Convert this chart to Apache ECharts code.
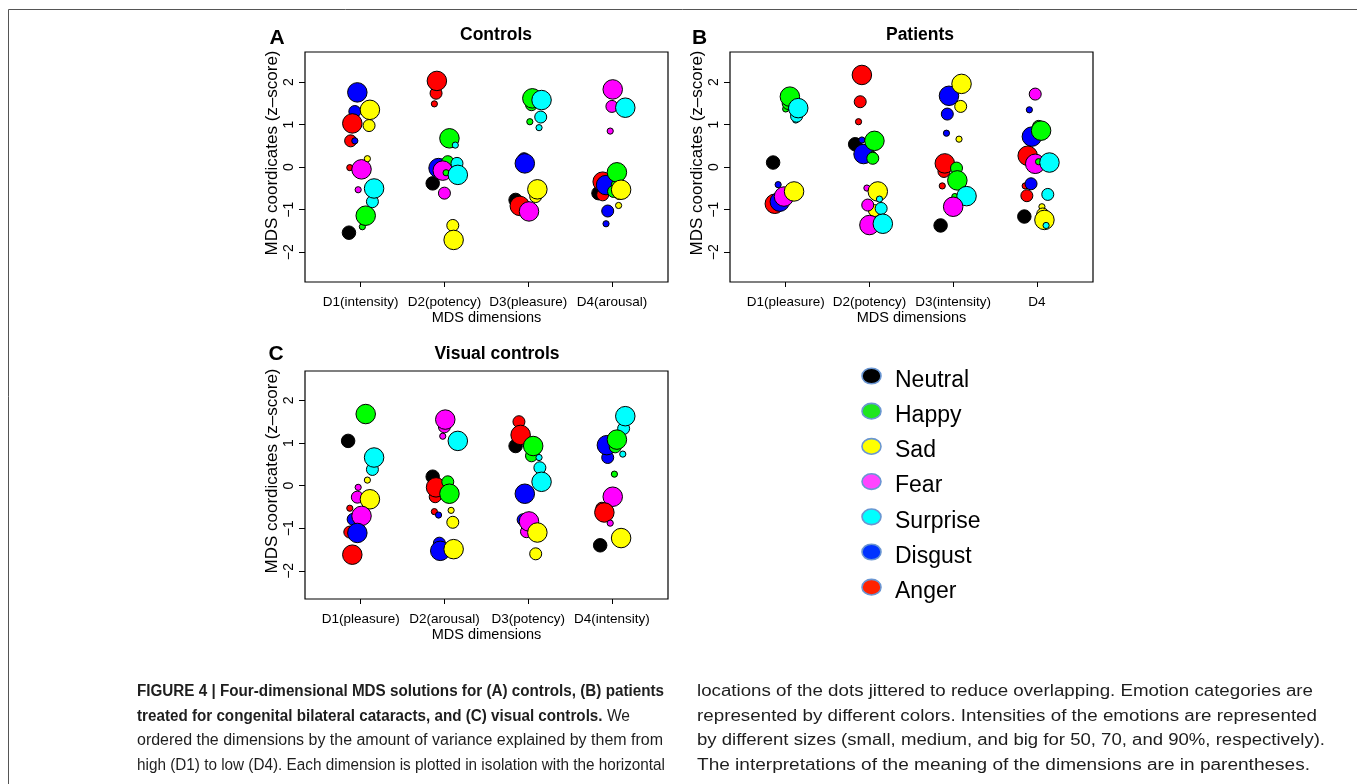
<!DOCTYPE html>
<html>
<head>
<meta charset="utf-8">
<script src="https://cdn.jsdelivr.net/npm/echarts@6/dist/echarts.min.js"></script>
<style>
html,body{margin:0;padding:0;background:#fff;}
#chart{width:1357px;height:784px;}
</style>
</head>
<body>
<div id="chart"></div>
<script>
// ---------------- DATA ----------------
const emotions = ['Neutral','Happy','Sad','Fear','Surprise','Disgust','Anger'];
const dimLabelsA = ['D1(intensity)','D2(potency)','D3(pleasure)','D4(arousal)'];
const dimLabelsB = ['D1(pleasure)','D2(potency)','D3(intensity)','D4'];
const dimLabelsC = ['D1(pleasure)','D2(arousal)','D3(potency)','D4(intensity)'];
const xTicks = [1,2,3,4];
const yTicks = [-2,-1,0,1,2];

// rows: [emotion, intensity (%), jittered dimension position, MDS coordinate (z-score)] in drawing order
const controlsD1 = [
 ['Neutral',0,0.86,-1.54],['Happy',50,1.02,-1.40],['Happy',70,1.05,-1.22],['Happy',90,1.06,-1.14],
 ['Surprise',70,1.14,-0.81],['Surprise',50,1.15,-0.62],['Surprise',90,1.16,-0.50],['Fear',50,0.97,-0.53],
 ['Anger',50,0.87,-0.01],['Fear',70,1.00,-0.10],['Fear',90,1.01,-0.05],['Sad',50,1.08,0.20],
 ['Anger',70,0.88,0.62],['Disgust',50,0.93,0.62],['Disgust',70,0.93,1.31],['Anger',90,0.90,1.03],
 ['Sad',70,1.10,0.98],['Sad',90,1.11,1.35],['Disgust',90,0.96,1.76]
];
const controlsD2 = [
 ['Anger',50,1.88,1.49],['Anger',70,1.90,1.74],['Anger',90,1.91,2.03],['Happy',90,2.06,0.68],
 ['Surprise',50,2.13,0.52],['Neutral',0,1.86,-0.38],['Disgust',70,1.93,-0.05],['Disgust',50,1.95,0.03],
 ['Disgust',90,1.93,-0.02],['Happy',70,2.04,0.13],['Fear',50,1.99,-0.05],['Fear',90,1.98,-0.08],
 ['Happy',50,2.02,-0.13],['Surprise',70,2.15,0.09],['Surprise',90,2.16,-0.18],['Fear',70,2.00,-0.61],
 ['Sad',50,2.10,-1.40],['Sad',70,2.10,-1.37],['Sad',90,2.11,-1.71]
];
const controlsD3 = [
 ['Happy',70,3.04,1.47],['Happy',90,3.05,1.62],['Surprise',90,3.16,1.58],['Surprise',70,3.15,1.18],
 ['Happy',50,3.02,1.07],['Surprise',50,3.13,0.93],['Disgust',50,2.96,0.12],['Disgust',70,2.95,0.20],
 ['Disgust',90,2.96,0.09],['Neutral',0,2.85,-0.77],['Anger',50,2.90,-0.90],['Anger',70,2.88,-0.85],
 ['Anger',90,2.90,-0.91],['Fear',50,3.01,-1.02],['Fear',70,3.00,-1.00],['Fear',90,3.01,-1.04],
 ['Sad',50,3.09,-0.62],['Sad',70,3.09,-0.69],['Sad',90,3.11,-0.52]
];
const controlsD4 = [
 ['Fear',90,4.01,1.83],['Fear',70,4.00,1.43],['Surprise',50,4.16,1.42],['Surprise',70,4.15,1.35],
 ['Surprise',90,4.16,1.40],['Fear',50,3.98,0.85],['Neutral',0,3.84,-0.61],['Anger',50,3.88,-0.50],
 ['Anger',70,3.89,-0.65],['Anger',90,3.89,-0.34],['Disgust',90,3.93,-0.42],['Happy',50,4.03,-0.40],
 ['Happy',70,4.02,-0.57],['Happy',90,4.06,-0.12],['Sad',70,4.09,-0.62],['Sad',90,4.11,-0.53],
 ['Sad',50,4.08,-0.90],['Disgust',70,3.95,-1.03],['Disgust',50,3.93,-1.33]
];

const patientsD1 = [
 ['Happy',50,1.00,1.37],['Happy',70,1.03,1.50],['Happy',90,1.05,1.66],['Surprise',50,1.12,1.11],
 ['Surprise',70,1.13,1.20],['Surprise',90,1.15,1.39],['Neutral',0,0.85,0.11],['Anger',50,0.88,-0.75],
 ['Anger',70,0.88,-0.80],['Anger',90,0.87,-0.86],['Disgust',70,0.93,-0.75],['Disgust',90,0.93,-0.81],
 ['Fear',50,0.97,-0.62],['Fear',70,0.98,-0.65],['Fear',90,0.98,-0.69],['Sad',50,1.08,-0.60],
 ['Sad',70,1.09,-0.60],['Sad',90,1.10,-0.57],['Disgust',50,0.91,-0.41]
];
const patientsD2 = [
 ['Anger',90,1.91,2.17],['Anger',70,1.89,1.54],['Anger',50,1.87,1.07],['Neutral',0,1.83,0.54],
 ['Disgust',50,1.91,0.64],['Disgust',70,1.92,0.40],['Disgust',90,1.93,0.31],['Happy',50,2.04,0.30],
 ['Happy',90,2.06,0.62],['Happy',70,2.04,0.21],['Fear',50,1.97,-0.49],['Sad',50,2.09,-0.70],
 ['Sad',90,2.10,-0.57],['Sad',70,2.06,-1.02],['Fear',70,1.98,-0.89],['Surprise',50,2.12,-0.75],
 ['Surprise',70,2.14,-0.97],['Fear',90,2.00,-1.36],['Surprise',90,2.16,-1.33]
];
const patientsD3 = [
 ['Disgust',90,2.95,1.68],['Sad',90,3.10,1.96],['Sad',70,3.09,1.43],['Disgust',70,2.93,1.25],
 ['Disgust',50,2.92,0.80],['Sad',50,3.07,0.66],['Anger',70,2.89,-0.10],['Anger',90,2.90,0.09],
 ['Anger',50,2.87,-0.44],['Happy',70,3.04,-0.02],['Happy',90,3.05,-0.31],['Surprise',50,3.15,-0.65],
 ['Surprise',70,3.15,-0.60],['Happy',50,3.02,-0.69],['Surprise',90,3.16,-0.68],['Fear',50,3.00,-0.90],
 ['Fear',70,2.99,-0.85],['Fear',90,3.00,-0.93],['Neutral',0,2.85,-1.37]
];
const patientsD4 = [
 ['Fear',70,3.98,1.72],['Disgust',50,3.91,1.35],['Disgust',90,3.94,0.72],['Happy',70,4.02,0.96],
 ['Happy',90,4.05,0.86],['Anger',90,3.89,0.27],['Fear',50,3.98,0.10],['Fear',90,3.98,0.08],
 ['Happy',50,4.02,0.13],['Surprise',90,4.15,0.11],['Anger',50,3.86,-0.44],['Disgust',70,3.93,-0.39],
 ['Anger',70,3.88,-0.67],['Surprise',70,4.13,-0.64],['Neutral',0,3.85,-1.16],['Sad',50,4.06,-0.93],
 ['Sad',70,4.07,-1.10],['Sad',90,4.09,-1.24],['Surprise',50,4.11,-1.37]
];

const visualD1 = [
 ['Happy',50,1.06,1.66],['Happy',70,1.05,1.62],['Happy',90,1.06,1.68],['Neutral',0,0.85,1.05],
 ['Surprise',50,1.15,0.55],['Surprise',70,1.14,0.38],['Surprise',90,1.16,0.66],['Sad',50,1.08,0.13],
 ['Fear',50,0.97,-0.04],['Fear',70,0.96,-0.27],['Sad',70,1.10,-0.30],['Sad',90,1.11,-0.32],
 ['Anger',50,0.87,-0.53],['Disgust',50,0.92,-0.80],['Disgust',70,0.91,-0.79],['Fear',90,1.01,-0.71],
 ['Anger',70,0.87,-1.09],['Disgust',90,0.96,-1.11],['Anger',90,0.90,-1.62]
];
const visualD2 = [
 ['Fear',50,1.98,1.16],['Fear',70,2.00,1.38],['Fear',90,2.01,1.55],['Surprise',50,2.16,1.10],
 ['Surprise',70,2.15,1.00],['Surprise',90,2.16,1.05],['Neutral',0,1.86,0.21],['Anger',70,1.89,-0.26],
 ['Anger',90,1.90,-0.04],['Happy',70,2.04,0.09],['Happy',50,2.05,-0.10],['Happy',90,2.06,-0.19],
 ['Anger',50,1.88,-0.61],['Disgust',50,1.93,-0.69],['Sad',50,2.08,-0.58],['Sad',70,2.10,-0.86],
 ['Disgust',70,1.94,-1.35],['Disgust',90,1.95,-1.53],['Sad',90,2.11,-1.49]
];
const visualD3 = [
 ['Neutral',0,2.85,0.93],['Anger',50,2.90,1.30],['Anger',70,2.89,1.50],['Anger',90,2.91,1.19],
 ['Happy',50,3.03,0.75],['Happy',70,3.04,0.70],['Happy',90,3.06,0.93],['Surprise',50,3.13,0.66],
 ['Surprise',70,3.14,0.42],['Surprise',90,3.16,0.09],['Disgust',50,2.96,-0.15],['Disgust',90,2.96,-0.19],
 ['Disgust',70,2.94,-0.80],['Fear',50,3.00,-0.90],['Fear',70,2.98,-1.08],['Fear',90,3.01,-0.84],
 ['Sad',50,3.10,-1.15],['Sad',90,3.11,-1.10],['Sad',70,3.09,-1.60]
];
const visualD4 = [
 ['Surprise',70,4.14,1.34],['Surprise',90,4.16,1.63],['Disgust',70,3.95,0.66],['Disgust',50,3.94,0.80],
 ['Disgust',90,3.94,0.95],['Happy',70,4.04,0.91],['Happy',90,4.06,1.08],['Surprise',50,4.13,0.74],
 ['Happy',50,4.03,0.27],['Fear',70,4.00,-0.22],['Fear',90,4.01,-0.26],['Anger',50,3.90,-0.60],
 ['Anger',70,3.88,-0.53],['Anger',90,3.91,-0.63],['Fear',50,3.98,-0.88],['Neutral',0,3.86,-1.40],
 ['Sad',50,4.10,-1.20],['Sad',70,4.11,-1.25],['Sad',90,4.11,-1.23]
];

// ---------------- STYLE ----------------
const pointColors = {Neutral:'#000000',Happy:'#00ff00',Sad:'#ffff00',Fear:'#ff00ff',Surprise:'#00ffff',Disgust:'#0000ff',Anger:'#ff0000'};
const legendColors = {Neutral:'#000000',Happy:'#1ee61e',Sad:'#ffff00',Fear:'#ff44ff',Surprise:'#00ffff',Disgust:'#0033ff',Anger:'#ff2200'};
function sizeOf(intensity){ return intensity===90 ? 19.5 : intensity===70 ? 12 : intensity===50 ? 6.2 : 13.5; }
const FONT = "'Liberation Sans', Arial, Helvetica, sans-serif";

const panels = [
 {grid:{left:305, top:52, width:363, height:230}, yMin:-2.70, yMax:2.71, labels:dimLabelsA, dims:[controlsD1,controlsD2,controlsD3,controlsD4]},
 {grid:{left:730, top:52, width:363, height:230}, yMin:-2.70, yMax:2.71, labels:dimLabelsB, dims:[patientsD1,patientsD2,patientsD3,patientsD4]},
 {grid:{left:305, top:371, width:363, height:228}, yMin:-2.66, yMax:2.69, labels:dimLabelsC, dims:[visualD1,visualD2,visualD3,visualD4]}
];

const grids = [], xAxes = [], yAxes = [], series = [];
panels.forEach((p, i) => {
  grids.push(Object.assign({show:true, borderColor:'#000', borderWidth:1.2, backgroundColor:'#fff', containLabel:false}, p.grid));
  xAxes.push({
    type:'value', gridIndex:i, min:0.335, max:4.67, position:'bottom',
    axisLine:{show:false, onZero:false}, splitLine:{show:false},
    axisTick:{show:true, customValues:xTicks, length:5, lineStyle:{color:'#000', width:1}},
    axisLabel:{customValues:xTicks, formatter:(v)=>p.labels[Math.round(v)-1], margin:13, fontSize:13.5, fontFamily:FONT, color:'#000'},
    name:'MDS dimensions', nameLocation:'middle', nameGap:28,
    nameTextStyle:{fontSize:14.5, fontFamily:FONT, color:'#000'}
  });
  yAxes.push({
    type:'value', gridIndex:i, min:p.yMin, max:p.yMax, position:'left',
    axisLine:{show:false, onZero:false}, splitLine:{show:false},
    axisTick:{show:true, customValues:yTicks, length:6, lineStyle:{color:'#000', width:1}},
    axisLabel:{customValues:yTicks, rotate:90, margin:9, fontSize:14, fontFamily:FONT, color:'#000',
      formatter:(v)=>String(Math.round(v)).replace('-','\u2212')},
    name:'MDS coordicates (z\u2013score)', nameLocation:'middle', nameGap:23, nameRotate:90,
    nameTextStyle:{fontSize:17, fontFamily:FONT, color:'#000', padding:[0,0,0,28]}
  });
  p.dims.forEach((rows) => {
    series.push({
      type:'scatter', xAxisIndex:i, yAxisIndex:i, silent:true,
      emphasis:{disabled:true},
      itemStyle:{borderColor:'#000', borderWidth:1, opacity:1},
      data: rows.map(r => ({value:[r[2], r[3]], symbolSize:sizeOf(r[1]), itemStyle:{color:pointColors[r[0]]}}))
    });
  });
});

// ---------------- TEXT / DECORATION ----------------
const graphics = [];
graphics.push({type:'line', shape:{x1:8.5,y1:9.5,x2:1357,y2:9.5}, style:{stroke:'#555', lineWidth:1}, silent:true});
graphics.push({type:'line', shape:{x1:8.5,y1:9.5,x2:8.5,y2:784}, style:{stroke:'#555', lineWidth:1}, silent:true});

function txt(x, y, text, size, weight, align){
  return {type:'text', x:x, y:y, silent:true,
    style:{text:text, fontSize:size, fontWeight:weight||'normal', fontFamily:FONT, fill:'#000', align:align||'center', verticalAlign:'middle'}};
}
graphics.push(txt(277, 38, 'A', 21, 'bold'));
graphics.push(txt(699.5, 38, 'B', 21, 'bold'));
graphics.push(txt(276, 354, 'C', 21, 'bold'));
graphics.push(txt(496, 35, 'Controls', 17.5, 'bold'));
graphics.push(txt(920, 35, 'Patients', 17.5, 'bold'));
graphics.push(txt(497, 354, 'Visual controls', 17.5, 'bold'));

// legend
emotions.forEach((e, k) => {
  const cy = 376 + k*35.2;
  graphics.push({type:'ellipse', shape:{cx:871.5, cy:cy, rx:9.5, ry:7.8}, silent:true,
    style:{fill:legendColors[e], stroke:'#6a96d2', lineWidth:1.6}});
  graphics.push(txt(895, cy+4.5, e, 23, 'normal', 'left'));
});

// caption (each line fitted to the width it occupies in the figure)
const CAP = '#1e1e1e';
const ctx = document.createElement('canvas').getContext('2d');
function measure(parts){
  return parts.reduce((s, p) => { ctx.font = (p.bold ? 'bold ' : '') + p.size + 'px ' + FONT; return s + ctx.measureText(p.text).width; }, 0);
}
const capLines = [
 {x:137, y:692,   w:527, parts:[{text:'FIGURE 4 | Four-dimensional MDS solutions for (A) controls, (B) patients', bold:true}]},
 {x:137, y:716.5, w:493, parts:[{text:'treated for congenital bilateral cataracts, and (C) visual controls.', bold:true},{text:' We'}]},
 {x:137, y:741,   w:526, parts:[{text:'ordered the dimensions by the amount of variance explained by them from'}]},
 {x:137, y:765.5, w:528, parts:[{text:'high (D1) to low (D4). Each dimension is plotted in isolation with the horizontal'}]},
 {x:697, y:692,   w:616, parts:[{text:'locations of the dots jittered to reduce overlapping. Emotion categories are'}]},
 {x:697, y:716.5, w:620, parts:[{text:'represented by different colors. Intensities of the emotions are represented'}]},
 {x:697, y:741,   w:628, parts:[{text:'by different sizes (small, medium, and big for 50, 70, and 90%, respectively).'}]},
 {x:697, y:765.5, w:613, parts:[{text:'The interpretations of the meaning of the dimensions are in parentheses.'}]}
];
capLines.forEach(L => {
  L.parts.forEach(p => { p.size = p.bold ? 15.6 : 16; });
  const sx = L.w / measure(L.parts);
  const text = L.parts.map(p => '{' + (p.bold ? 'b' : 'n') + '|' + p.text + '}').join('');
  graphics.push({type:'text', x:L.x, y:L.y, scaleX:sx, silent:true,
    style:{text:text, align:'left', verticalAlign:'middle', fill:CAP,
      rich:{b:{fontSize:15.6, fontWeight:'bold', fontFamily:FONT, fill:CAP}, n:{fontSize:16, fontFamily:FONT, fill:CAP}}}});
});

const chart = echarts.init(document.getElementById('chart'), null, {renderer:'canvas'});
chart.setOption({
  backgroundColor:'#fff',
  animation:false,
  grid:grids, xAxis:xAxes, yAxis:yAxes, series:series,
  graphic:{elements:graphics}
});
</script>
</body>
</html>
